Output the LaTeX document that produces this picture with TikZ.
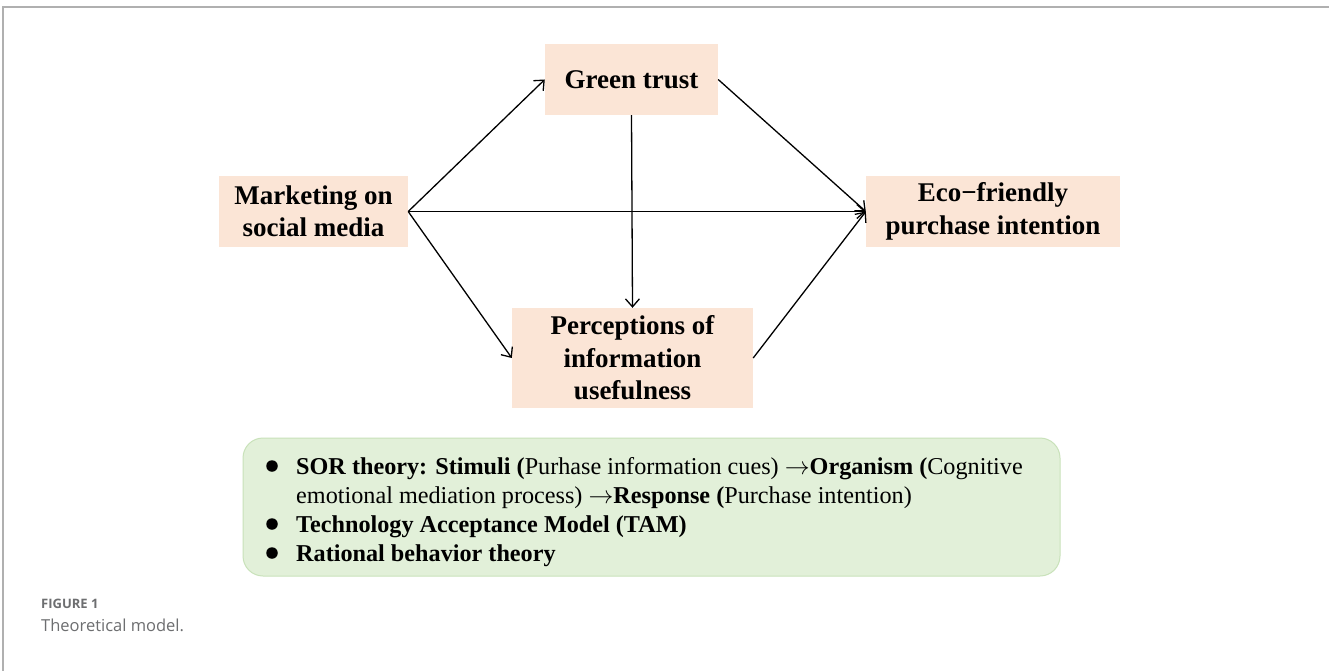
\documentclass[tikz,border=0pt]{standalone}
\usepackage{fontspec}
\setmainfont{Liberation Serif}
\newfontfamily\capfont{Open Sans}
\usetikzlibrary{arrows.meta}
\definecolor{peach}{HTML}{FBE5D6}
\definecolor{mint}{HTML}{E2F0D9}
\definecolor{mintline}{HTML}{C9E2BA}
\definecolor{capgray}{HTML}{6D6E70}
\definecolor{framegray}{HTML}{B0B0B0}
\newcommand{\myarrow}{\ensuremath{\rightarrow}}
\tikzset{
  box/.style={fill=peach, draw=none, inner sep=0pt, align=center,
    font=\fontsize{27}{32.5}\selectfont\bfseries},
  link/.style={line width=1.3pt, -{Straight Barb[length=8pt,width=14pt,line width=1.3pt]}},
  listline/.style={anchor=base west, inner sep=0pt, font=\fontsize{24.2}{29}\selectfont},
  bullet/.style={circle, fill=black, inner sep=0pt, minimum size=11.5pt},
}
\begin{document}
\begin{tikzpicture}[x=1pt,y=-1pt]
\useasboundingbox (0,0) rectangle (1329,671);
\fill[white] (0,0) rectangle (1329,671);
% frame
\draw[framegray, line width=1.5pt] (3,671) -- (3,7) -- (1329,7);

% nodes
\node[box, minimum width=173pt, minimum height=71pt] (gt) at (631.5,79.5) {Green trust};
\node[box, minimum width=189pt, minimum height=71pt] (msm) at (313.5,211.5) {Marketing on\\social media};
\node[box, minimum width=254pt, minimum height=71pt] (eco) at (993,211.5) {Eco−friendly\\purchase intention};
\node[box, minimum width=241pt, minimum height=100pt] (piu) at (632.5,358) {Perceptions of\\information\\usefulness};

% connectors
\draw[link] (msm.east) -- (gt.west);
\draw[link] (msm.east) -- (eco.west);
\draw[link] (msm.east) -- (piu.west);
\draw[link] (gt.south) -- (piu.north);
\draw[link] (gt.east) -- (eco.west);
\draw[link] (piu.east) -- (eco.west);

% theory box
\node[fill=mint, draw=mintline, line width=1pt, rounded corners=20pt,
  minimum width=817pt, minimum height=138pt, inner sep=0pt] (theory) at (651.5,507) {};
\node[bullet] (b1) at (272,466) {};
\node[bullet] (b2) at (272,524) {};
\node[bullet] (b3) at (272,553) {};
\node[listline] (l1) at (296,474) {\textbf{SOR theory: Stimuli (}Purhase information cues) \myarrow\textbf{Organism (}Cognitive};
\node[listline] (l2) at (296,503) {emotional mediation process) \myarrow\textbf{Response (}Purchase intention)};
\node[listline] (l3) at (296,532) {\textbf{Technology Acceptance Model (TAM)}};
\node[listline] (l4) at (296,561) {\textbf{Rational behavior theory}};

% caption
\node[anchor=base west, inner sep=0pt, text=capgray, font=\capfont\fontsize{13}{15}\selectfont\bfseries] (fig) at (41,608) {FIGURE 1};
\node[anchor=base west, inner sep=0pt, text=capgray, font=\capfont\fontsize{16.5}{19}\selectfont] (cap) at (41,631) {Theoretical model.};
\end{tikzpicture}
\end{document}
